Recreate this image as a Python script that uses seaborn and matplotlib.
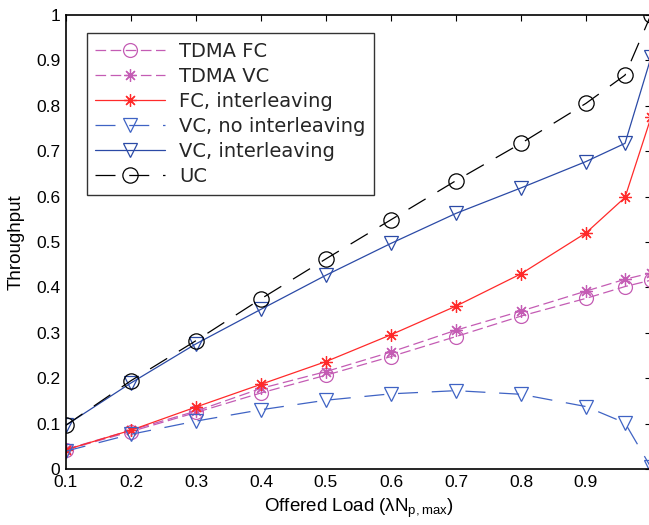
import matplotlib
matplotlib.use("Agg")
import matplotlib.pyplot as plt
import seaborn as sns
import pandas as pd

sns.set_theme(style="white")
plt.rcParams['font.family'] = ['Liberation Sans', 'DejaVu Sans']
plt.rcParams['mathtext.fontset'] = 'custom'
plt.rcParams['mathtext.rm'] = 'Liberation Sans'
plt.rcParams['mathtext.it'] = 'Liberation Sans'

load = [0.1, 0.2, 0.3, 0.4, 0.5, 0.6, 0.7, 0.8, 0.9, 0.96, 1.0]
tdma_fc = [0.043, 0.083, 0.125, 0.168, 0.207, 0.248, 0.292, 0.337, 0.376, 0.402, 0.416]
tdma_vc = [0.044, 0.086, 0.128, 0.178, 0.215, 0.258, 0.306, 0.348, 0.392, 0.418, 0.432]
fc_inter = [0.043, 0.086, 0.137, 0.187, 0.237, 0.296, 0.359, 0.430, 0.520, 0.598, 0.774]
vc_nointer = [0.040, 0.077, 0.106, 0.131, 0.152, 0.166, 0.173, 0.165, 0.138, 0.102, 0.004]
vc_inter = [0.097, 0.190, 0.276, 0.352, 0.427, 0.497, 0.563, 0.619, 0.677, 0.717, 0.906]
uc = [0.097, 0.195, 0.283, 0.375, 0.463, 0.549, 0.635, 0.717, 0.805, 0.867, 1.0]

xticks = [0.1, 0.2, 0.3, 0.4, 0.5, 0.6, 0.7, 0.8, 0.9, 1.0]
# the label of the last tick falls outside the cropped figure in the reference
xticklabels = ["0.1", "0.2", "0.3", "0.4", "0.5", "0.6", "0.7", "0.8", "0.9", ""]
yticks = [0, 0.1, 0.2, 0.3, 0.4, 0.5, 0.6, 0.7, 0.8, 0.9, 1.0]
yticklabels = ["0", "0.1", "0.2", "0.3", "0.4", "0.5", "0.6", "0.7", "0.8", "0.9", "1"]

df = pd.DataFrame({"load": load, "TDMA FC": tdma_fc, "TDMA VC": tdma_vc,
                   "FC, interleaving": fc_inter, "VC, no interleaving": vc_nointer,
                   "VC, interleaving": vc_inter, "UC": uc})

fig = plt.figure(figsize=(6.49, 5.25), dpi=100)
ax = fig.add_axes([66/649, (525-469.3)/525, 585/649, 454.6/525])

magenta = "#c45cb4"
red = "#ff2a2a"
blue_l = "#3f63c4"
blue_d = "#2b4aa6"
asterisk = (8, 2, 0)

styles = [
    ("TDMA FC", dict(color=magenta, marker="o", linestyle=(0, (8.5, 3.6)), markersize=10)),
    ("TDMA VC", dict(color=magenta, marker=asterisk, linestyle=(0, (8.5, 3.6)), markersize=9)),
    ("FC, interleaving", dict(color=red, marker=asterisk, linestyle="-", markersize=9)),
    ("VC, no interleaving", dict(color=blue_l, marker="v", linestyle=(0, (16, 11)), markersize=10)),
    ("VC, interleaving", dict(color=blue_d, marker="v", linestyle="-", markersize=10)),
    ("UC", dict(color="black", marker="o", linestyle=(0, (16, 11)), markersize=11)),
]

for name, st in styles:
    sns.lineplot(data=df, x="load", y=name, ax=ax, label=name,
                 color=st["color"], marker=st["marker"], linestyle=st["linestyle"],
                 markersize=st["markersize"], markerfacecolor="none",
                 markeredgecolor=st["color"], markeredgewidth=0.9, linewidth=0.9)

ax.set_xlim(0.1, 1.0)
ax.set_ylim(0, 1.0)
ax.set_xticks(xticks)
ax.set_xticklabels(xticklabels)
ax.set_yticks(yticks)
ax.set_yticklabels(yticklabels)
ax.tick_params(direction="in", length=4.5, width=0.8, top=True, right=True,
               labelsize=12.5, colors="black", pad=4)
for s in ax.spines.values():
    s.set_color("black")
    s.set_linewidth(1.2)

ax.set_xlabel(r"Offered Load ($\lambda$N$_{\mathrm{p,max}}$)", fontsize=13.5, color="black", labelpad=5)
ax.set_ylabel("Throughput", fontsize=13.5, color="black", labelpad=8)

leg = ax.legend(loc="upper left", bbox_to_anchor=((86.7-66)/585, (469.3-33.3)/454.6),
                numpoints=1, handlelength=3.6, handletextpad=0.7, labelspacing=0.31,
                prop={"family": "DejaVu Sans", "size": 14},
                frameon=True, fancybox=False, borderpad=0.45, borderaxespad=0)
leg.get_frame().set_edgecolor("black")
leg.get_frame().set_linewidth(1.0)

fig.savefig("out.png", dpi=100)
